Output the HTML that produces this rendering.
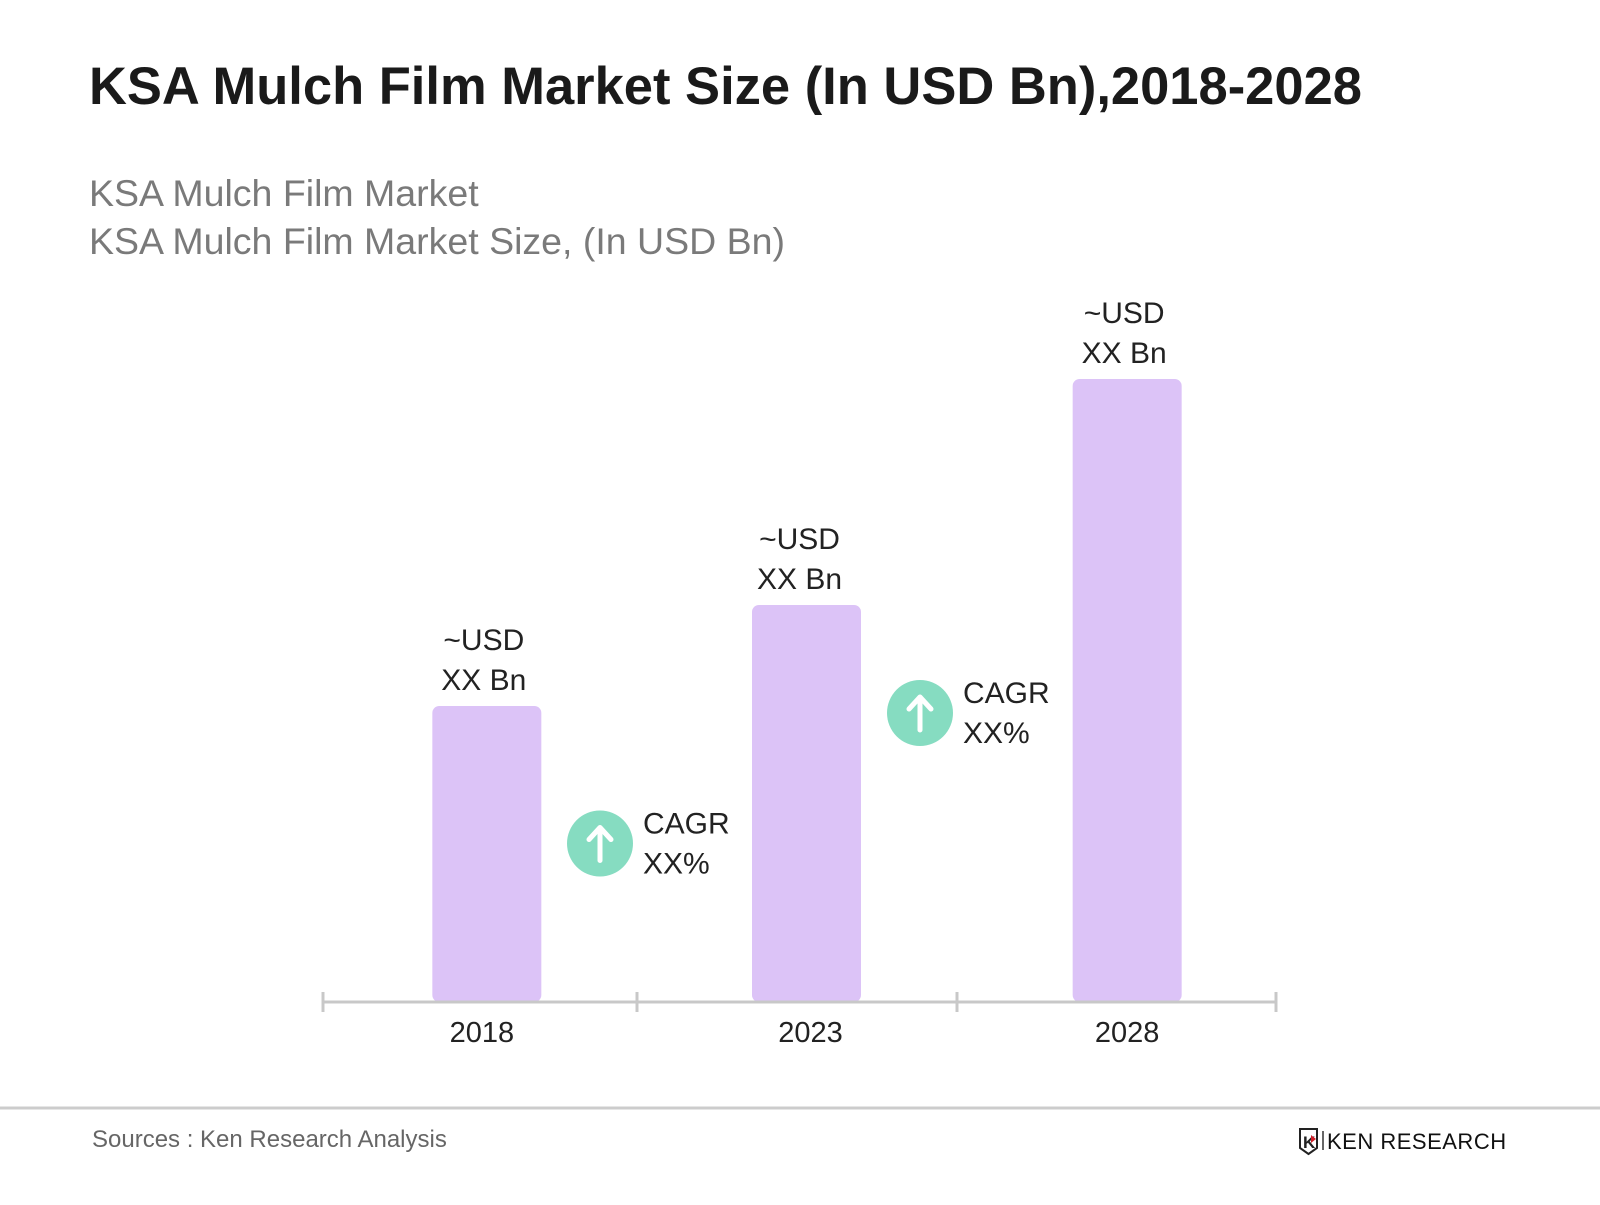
<!DOCTYPE html>
<html><head><meta charset="utf-8"><style>
body{margin:0;width:1600px;height:1200px;background:#fff;overflow:hidden;font-family:"Liberation Sans",sans-serif;}
svg text{font-family:"Liberation Sans",sans-serif;}
</style></head><body>
<svg id="chart" width="1600" height="1200">
<text x="89" y="104" font-size="52.5" font-weight="bold" fill="#1a1a1a">KSA Mulch Film Market Size (In USD Bn),2018-2028</text>
<text x="89" y="206" font-size="37.5" fill="#7a7a7a">KSA Mulch Film Market</text>
<text x="89" y="254" font-size="37.5" fill="#7a7a7a">KSA Mulch Film Market Size, (In USD Bn)</text>
<g id="bars"></g>
<line x1="323" y1="1002" x2="1276" y2="1002" stroke="#c8c8c8" stroke-width="3"/>
<line x1="0" y1="1108" x2="1600" y2="1108" stroke="#cccccc" stroke-width="3"/>
<text x="92" y="1147" font-size="24" fill="#666">Sources : Ken Research Analysis</text>
<g>
<path d="M1300 1129 h17 v19 l-8.5 6 l-8.5 -6z" fill="none" stroke="#222" stroke-width="2"/>
<text x="1303" y="1148" font-size="17" font-weight="bold" fill="#222">K</text>
<path d="M1311 1135 l5 4 l-5 4z" fill="#d0202a"/>
<line x1="1323" y1="1131" x2="1323" y2="1150" stroke="#333" stroke-width="1.5"/>
<text x="1327" y="1149" font-size="22" fill="#111" letter-spacing="0.5">KEN RESEARCH</text>
</g>
</svg>
<script>
const categories=["2018","2023","2028"];
const values=[29.6,39.7,62.3];
const valueLabels=["~USD|XX Bn","~USD|XX Bn","~USD|XX Bn"];
const cagrLabels=["CAGR|XX%","CAGR|XX%"];
const ticks=[0,1,2,3];
const NS="http://www.w3.org/2000/svg";
const g=document.getElementById('bars');
const x0=323,x1=1276,base=1002,pxPer=10;
const band=(x1-x0)/categories.length;
const xc=i=>x0+band*(i+0.5)+[5,7,10][i];
const y=v=>base-v*pxPer;
function mk(t,a){const e=document.createElementNS(NS,t);for(const k in a)e.setAttribute(k,a[k]);g.appendChild(e);return e;}
const tickX=[323,637,957,1276];
const yearOff=[-5,4,0];
const valOff=[-3,-7,-3];
ticks.forEach(i=>{const t=mk('line',{x1:tickX[i],x2:tickX[i],y1:992,y2:1012,stroke:'#c8c8c8','stroke-width':3});

});
categories.forEach((c,i)=>{
 const cx=xc(i),w=109;
 const r=mk('rect',{x:cx-w/2,y:y(values[i]),width:w,height:base-y(values[i]),rx:7,fill:'#dcc3f7'});
 
 
 const parts=valueLabels[i].split('|');
 parts.forEach((p,j)=>{const t=mk('text',{x:cx+valOff[i],y:y(values[i])-56+j*40,'font-size':30,'text-anchor':'middle',fill:'#222'});t.textContent=p;
 
 });
 const yl=mk('text',{x:cx+yearOff[i],y:1042,'font-size':29,'text-anchor':'middle',fill:'#222'});yl.textContent=c;
 
 
});
const cagrOff=[188,221];
cagrLabels.forEach((l,i)=>{
 const cx=(tickX[i+1])-37,cy=(y(values[i])+y(values[i+1]))/2+cagrOff[i];
 const c=mk('circle',{cx:cx,cy:cy,r:33,fill:'#86dcc1'});
 
 
 const a=mk('path',{d:`M${cx} ${cy+17} V${cy-15} M${cx-11} ${cy-4} L${cx} ${cy-16} L${cx+11} ${cy-4}`,stroke:'#fff','stroke-width':5,fill:'none','stroke-linecap':'round','stroke-linejoin':'round'});
 
 
 l.split('|').forEach((p,j)=>{const t=mk('text',{x:cx+43,y:cy-10+j*40,'font-size':30,fill:'#222'});t.textContent=p;
 
 });
});
</script>
</body></html>
